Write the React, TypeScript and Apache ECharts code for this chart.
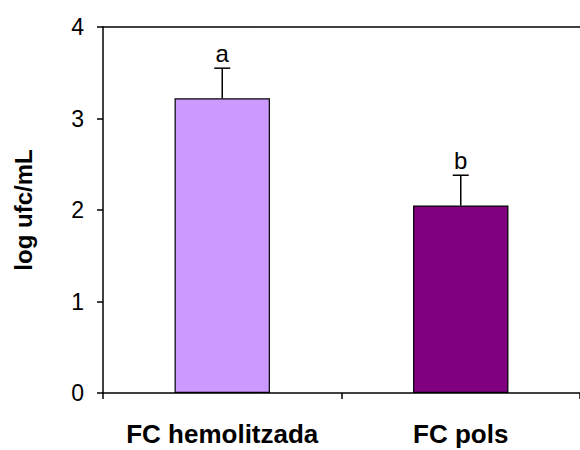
import React, { useEffect, useRef } from "react";
import * as echarts from "echarts";

const categories = ["FC hemolitzada", "FC pols"];
const values = [3.22, 2.05];
const errors = [0.33, 0.33];
const letters = ["a", "b"];
const barColors = ["#CC99FF", "#800080"];
const yTicks = [0, 1, 2, 3, 4];

export default function App() {
  const ref = useRef<HTMLDivElement>(null);
  useEffect(() => {
    const chart = echarts.init(ref.current!, null, { renderer: "svg" });
    const font = "'Liberation Sans', Arial, sans-serif";
    chart.setOption({
      animation: false,
      backgroundColor: "#fff",
      grid: {
        left: 103,
        right: -5,
        top: 27,
        bottom: 57,
      },
      xAxis: [
        {
          type: "category",
          data: categories,
          axisLine: { lineStyle: { color: "#000", width: 1.5 } },
          axisTick: { show: true, length: 6, alignWithLabel: false, lineStyle: { color: "#000", width: 1.5 } },
          axisLabel: { color: "#000", fontFamily: font, fontSize: 26, fontWeight: "bold", margin: 41, interval: 0, verticalAlign: "middle", lineHeight: 26 },
        },
        {
          type: "category",
          position: "top",
          data: categories,
          axisLine: { show: true, lineStyle: { color: "#000", width: 1.5 } },
          axisTick: { show: false },
          axisLabel: { show: false },
        },
      ],
      yAxis: {
        type: "value",
        min: yTicks[0],
        max: yTicks[yTicks.length - 1],
        interval: 1,
        name: "log ufc/mL",
        nameLocation: "middle",
        nameGap: 68,
        nameTextStyle: { color: "#000", fontFamily: font, fontSize: 24, fontWeight: "bold" },
        axisLine: { show: true, lineStyle: { color: "#000", width: 1.5 } },
        axisTick: { show: true, length: 6, lineStyle: { color: "#000", width: 1.5 } },
        axisLabel: { color: "#000", fontFamily: font, fontSize: 23, margin: 19 },
        splitLine: { show: false },
      },
      series: [
        {
          type: "bar",
          barWidth: "40%",
          data: values.map((v, i) => ({
            value: v,
            itemStyle: { color: barColors[i], borderColor: "#000", borderWidth: 1.2 },
          })),
        },
        {
          type: "custom",
          data: values.map((v, i) => [i, v, v + errors[i]]),
          renderItem: (params: any, api: any) => {
            const base = api.coord([api.value(0), api.value(1)]);
            const top = api.coord([api.value(0), api.value(2)]);
            const x = base[0];
            const idx = params.dataIndex;
            return {
              type: "group",
              children: [
                {
                  type: "line",
                  shape: { x1: x, y1: base[1], x2: x, y2: top[1] },
                  style: { stroke: "#000", lineWidth: 1.5 },
                },
                {
                  type: "line",
                  shape: { x1: x - 8, y1: top[1], x2: x + 8, y2: top[1] },
                  style: { stroke: "#000", lineWidth: 1.5 },
                },
                {
                  type: "text",
                  x: x,
                  y: top[1] - 3,
                  style: {
                    text: letters[idx],
                    fill: "#000",
                    font: `24px ${font}`,
                    textAlign: "center",
                    textVerticalAlign: "bottom",
                  },
                },
              ],
            };
          },
          z: 10,
        },
      ],
    });
    return () => chart.dispose();
  }, []);
  return (
    <div
      ref={ref}
      style={{ position: "fixed", left: 0, top: 0, width: 580, height: 450, overflow: "hidden" }}
    />
  );
}
